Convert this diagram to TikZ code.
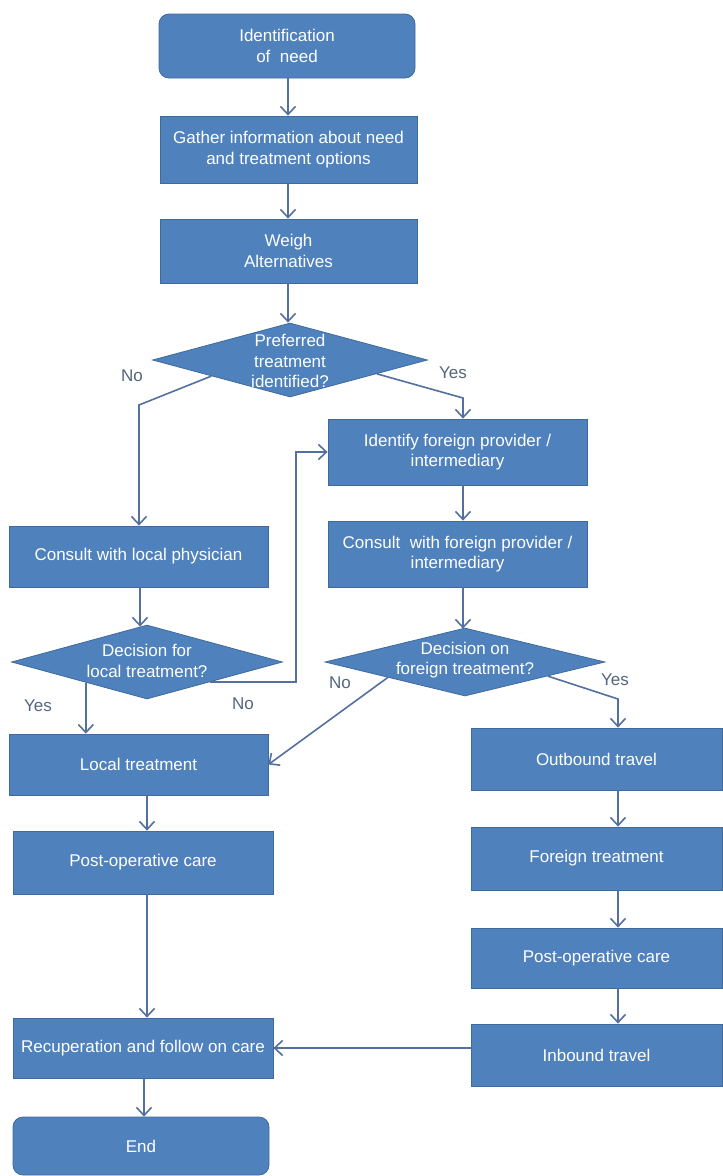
\documentclass[tikz,border=0pt]{standalone}
\usepackage{fontspec}
\setmainfont{Liberation Sans}
\usetikzlibrary{arrows.meta,shapes.geometric,calc}
\definecolor{boxfill}{HTML}{4F81BD}
\definecolor{boxline}{HTML}{3E6A9E}
\definecolor{connc}{HTML}{5370A0}
\definecolor{labc}{HTML}{56657F}
\begin{document}
\begin{tikzpicture}[x=1pt,y=-1pt,
  box/.style={draw=boxline, line width=0.8pt, fill=boxfill, text=white, align=center, inner sep=0pt, font=\fontsize{17}{20.5}\selectfont},
  rbox/.style={box, rounded corners=10pt},
  dia/.style={diamond, draw=boxline, fill=boxfill, inner sep=0pt, line width=0.8pt},
  dtext/.style={text=white, align=center, inner sep=0pt, font=\fontsize{17}{20.5}\selectfont},
  conn/.style={draw=connc, line width=1.6pt, -{Straight Barb[length=8pt,width=15pt]}},
  lbl/.style={text=labc, inner sep=0pt, font=\fontsize{17}{20}\selectfont}
]
\useasboundingbox (0,0) rectangle (723,1176);
\fill[white] (0,0) rectangle (723,1176);

% main column
\node[rbox, minimum width=256, minimum height=64] (idn) at (287,46) {Identification\\of\ \ need};
\node[box, minimum width=257, minimum height=67] (gat) at (288.5,149.5) {Gather information about need\\and treatment options};
\node[box, minimum width=257, minimum height=64] (wei) at (288.5,251) {Weigh\\Alternatives};
\node[dia, minimum width=275, minimum height=74] (pref) at (290,360) {};
\node[dtext] (preft) at (290,361) {Preferred\\treatment\\identified?};

% foreign branch
\node[box, minimum width=259, minimum height=66] (ifp) at (457.5,452) {Identify foreign provider /\\intermediary};
\node[box, minimum width=259, minimum height=66] (cfp) at (457.5,554) {Consult\ \ with foreign provider /\\intermediary};
\node[dia, minimum width=280, minimum height=68] (fd) at (465,662) {};
\node[dtext] (fdt) at (465,660) {Decision on\\foreign treatment?};
\node[box, minimum width=251, minimum height=62] (ob) at (596.5,759) {Outbound travel};
\node[box, minimum width=251, minimum height=63] (ft) at (596.5,858.5) {Foreign treatment};
\node[box, minimum width=251, minimum height=60] (por) at (596.5,958) {Post-operative care};
\node[box, minimum width=251, minimum height=62] (ib) at (596.5,1055) {Inbound travel};

% local branch
\node[box, minimum width=259, minimum height=61] (cl) at (138.5,556.5) {Consult with local physician};
\node[dia, minimum width=271, minimum height=74] (ld) at (147,662) {};
\node[dtext] (ldt) at (147,661) {Decision for\\local treatment?};
\node[box, minimum width=259, minimum height=61] (lt) at (138.5,764.5) {Local treatment};
\node[box, minimum width=260, minimum height=63] (pol) at (143,862.5) {Post-operative care};
\node[box, minimum width=260, minimum height=60] (rc) at (143,1048) {Recuperation and follow on care};
\node[rbox, minimum width=256, minimum height=58] (end) at (141,1146) {End};

% column coordinates
\coordinate (c1) at (288,0);
\coordinate (c2) at (463,0);
\coordinate (c3) at (618,0);
\coordinate (c4) at (140,0);
\coordinate (c5) at (147,0);
\coordinate (c6) at (144,0);
\coordinate (k1) at (139,405);
\coordinate (k2) at (463,398);
\coordinate (k3) at (296,452);
\coordinate (k5) at (618,699);
\coordinate (s4) at ($(ld.west)!0.55!(ld.south)$);

% connectors
\draw[conn] (idn.south -| c1) -- (gat.north -| c1);
\draw[conn] (gat.south -| c1) -- (wei.north -| c1);
\draw[conn] (wei.south -| c1) -- (pref.north -| c1);
\draw[conn] ($(pref.west)!0.43!(pref.south)$) -- (k1) -- (cl.north -| k1);
\draw[conn] ($(pref.east)!0.37!(pref.south)$) -- (k2) -- (ifp.north -| k2);
\draw[conn] (ifp.south -| c2) -- (cfp.north -| c2);
\draw[conn] (cfp.south -| c2) -- ($(fd.north)+(-2,1)$);
\draw[conn] (cl.south -| c4) -- ($(ld.north)+(-7,2)$);
\draw[conn] ($(ld.east)!0.54!(ld.south)$) -| (k3) -- (ifp.west);
\draw[conn] (s4) -- (lt.north -| s4);
\draw[conn] ($(fd.west)!0.45!(fd.south)$) -- (lt.east);
\draw[conn] ($(fd.east)!0.41!(fd.south)$) -- (k5) -- (ob.north -| k5);
\draw[conn] (lt.south -| c5) -- (pol.north -| c5);
\draw[conn] (pol.south -| c5) -- (rc.north -| c5);
\draw[conn] (rc.south -| c6) -- (end.north -| c6);
\draw[conn] (ob.south -| c3) -- (ft.north -| c3);
\draw[conn] (ft.south -| c3) -- (por.north -| c3);
\draw[conn] (por.south -| c3) -- (ib.north -| c3);
\draw[conn] (ib.west |- rc.east) -- (rc.east);

% labels
\node[lbl] (l1) at (132,376) {No};
\node[lbl] (l2) at (453,373) {Yes};
\node[lbl] (l3) at (38,706) {Yes};
\node[lbl] (l4) at (243,704) {No};
\node[lbl] (l5) at (340,683) {No};
\node[lbl] (l6) at (615,680) {Yes};
\end{tikzpicture}
\end{document}
